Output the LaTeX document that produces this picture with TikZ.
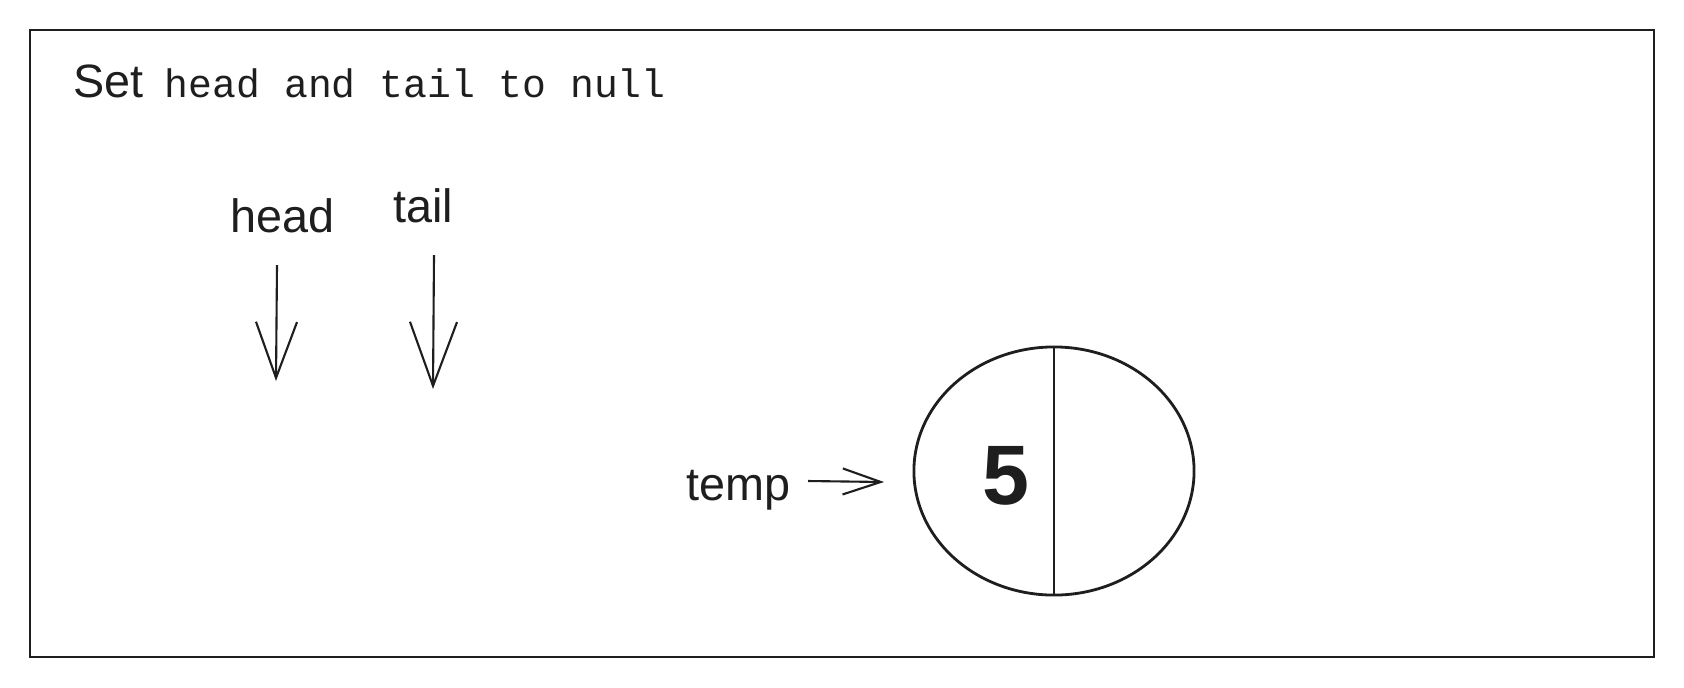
\documentclass[tikz,border=0pt]{standalone}
\usepackage{fontspec}
\setmainfont{Liberation Sans}
\setmonofont{Liberation Mono}
\usetikzlibrary{arrows.meta,shapes.geometric}
\definecolor{muc}{RGB}{30,30,30}

\begin{document}
\begin{tikzpicture}[x=0.01cm, y=-0.01cm, color=muc,
    nhan/.style={font=\fontsize{13.3}{16}\selectfont, inner sep=0pt},
    muiten/.style={line width=0.6pt},
    nut/.style={draw, ellipse, line width=0.8pt, minimum width=2.8cm, minimum height=2.48cm}]
    \useasboundingbox (0,0) rectangle (1684,687);
    %%Khung
    \draw[line width=0.8pt] (30,30) rectangle (1654,657);
    \node[nhan, anchor=base west] (tieude) at (73,97) {Set\hspace{0.45em}\texttt{\fontsize{11.3}{14}\selectfont head and tail to null}};
    %%Con tro head, tail
    \node[nhan, anchor=base] (head) at (283,232) {head};
    \node[nhan, anchor=base] (tail) at (423,222) {tail};
    \coordinate (h1) at (277,265);
    \coordinate (h2) at (276,381);
    \coordinate (t1) at (434,255);
    \coordinate (t2) at (433,389);
    \draw[muiten, -{Straight Barb[length=5.6mm,width=4.1mm]}] (h1) -- (h2);
    \draw[muiten, -{Straight Barb[length=6.4mm,width=4.7mm]}] (t1) -- (t2);
    %%Nut temp
    \node[nut] (nut5) at (1054,471) {};
    \draw[line width=0.6pt] (nut5.north) -- (nut5.south);
    \node[font=\fontsize{24}{30}\bfseries\selectfont, inner sep=0pt] (so5) at (1006,476) {5};
    \node[nhan, anchor=base west] (temp) at (686,500) {temp};
    \coordinate (p1) at (808,481);
    \coordinate (p2) at (884,482);
    \draw[muiten, -{Straight Barb[length=3.8mm,width=2.6mm]}] (p1) -- (p2);
\end{tikzpicture}
\end{document}
